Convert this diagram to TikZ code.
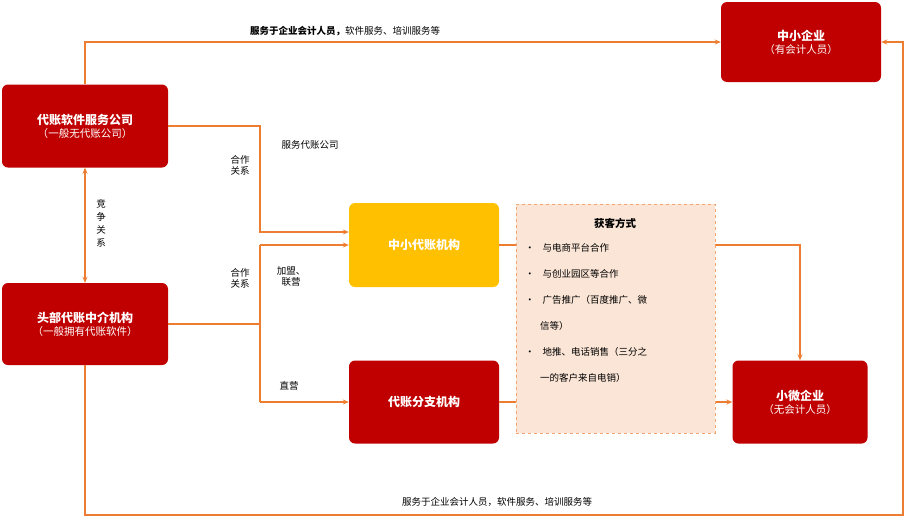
\documentclass[tikz,border=0pt]{standalone}
\usepackage{fontspec}
\setmainfont{Noto Sans CJK SC}
\usetikzlibrary{arrows.meta}
\definecolor{dred}{HTML}{C00000}
\definecolor{ora}{HTML}{ED7D31}
\definecolor{yel}{HTML}{FFC000}
\definecolor{pink}{HTML}{FBE5D6}
\begin{document}
\begin{tikzpicture}[x=1pt,y=-1pt,
 box/.style={draw=none,fill=dred,rounded corners=6pt,text=white,align=center,inner sep=0pt,font=\fontsize{10.5}{13}\selectfont},
 con/.style={draw=ora,line width=1.1pt},
 arr/.style={con,-{Stealth[length=6pt,width=5pt]}},
 lab/.style={font=\fontsize{9.5}{11}\selectfont,align=center,inner sep=1pt}]
\useasboundingbox (0,0) rectangle (905,520);
\node[box,minimum width=160pt,minimum height=80pt] (sme) at (801,42) {{\bfseries\fontsize{12}{15}\selectfont 中小企业}\\（有会计人员）};
\node[box,minimum width=166pt,minimum height=83pt] (soft) at (85,126) {{\bfseries\fontsize{12}{15}\selectfont 代账软件服务公司}\\（一般无代账公司）};
\node[box,minimum width=166pt,minimum height=82pt] (head) at (85,324) {{\bfseries\fontsize{12}{15}\selectfont 头部代账中介机构}\\（一般拥有代账软件）};
\node[box,fill=yel,minimum width=150pt,minimum height=84pt] (mid) at (424,245) {\bfseries\fontsize{12}{15}\selectfont 中小代账机构};
\node[box,minimum width=150pt,minimum height=83pt] (branch) at (424,402) {\bfseries\fontsize{12}{15}\selectfont 代账分支机构};
\node[box,minimum width=135pt,minimum height=83pt] (micro) at (800,402) {{\bfseries\fontsize{12}{15}\selectfont 小微企业}\\（无会计人员）};
% connectors
\coordinate (t1) at (85,42);
\draw[arr] (soft.north) -- (t1) -- (sme.west);
\coordinate (s1) at (260,126); \coordinate (s2) at (260,232);
\draw[arr] (soft.east) -- (s1) -- (s2) -- (mid.west|-s2);
\draw[con,{Stealth[length=6pt,width=5pt]}-{Stealth[length=6pt,width=5pt]}] (soft.south) -- (head.north);
\coordinate (h1) at (260,324); \coordinate (h2) at (260,245); \coordinate (h3) at (260,402);
\draw[con] (head.east) -- (h1);
\draw[con] (h2) -- (h3);
\draw[arr] (h2) -- (mid.west|-h2);
\draw[arr] (h3) -- (branch.west);
\coordinate (b1) at (85,515); \coordinate (b2) at (903,515); \coordinate (b3) at (903,42);
\draw[arr] (head.south) -- (b1) -- (b2) -- (b3) -- (sme.east);
\coordinate (m1) at (800,245);
\draw[arr] (mid.east) -- (m1) -- (micro.north);
\draw[arr] (branch.east) -- (micro.west);
% pink box
\node[draw=ora!70,dashed,fill=pink,minimum width=199pt,minimum height=229pt,inner sep=0pt] (way) at (615.5,318.5) {};
\node[font=\bfseries\fontsize{10.5}{13}\selectfont] (wt) at (615,223) {获客方式};
\foreach \y/\t in {248/与电商平台合作,274/与创业园区等合作,300/广告推广（百度推广、微,352/地推、电话销售（三分之}{
 \node[lab,anchor=west] at (524,\y) {•\hspace{8pt}\t};}
\node[lab,anchor=west] (w5) at (539,326) {信等）};
\node[lab,anchor=west] (w6) at (539,378) {一的客户来自电销）};
% labels
\node[lab] (l1) at (345,31) {\textbf{服务于企业会计人员，}软件服务、培训服务等};
\node[lab] (l2) at (497,502) {服务于企业会计人员，软件服务、培训服务等};
\node[lab] (l3) at (310,145) {服务代账公司};
\node[lab] (l4) at (240,165) {合作\\关系};
\node[lab] (l5) at (240,278) {合作\\关系};
\node[lab] (l6) at (291,276) {加盟、\\联营};
\node[lab] (l7) at (289,386) {直营};
\node[lab,font=\fontsize{9.5}{13}\selectfont] (l8) at (101,223) {竞\\争\\关\\系};
\end{tikzpicture}
\end{document}
